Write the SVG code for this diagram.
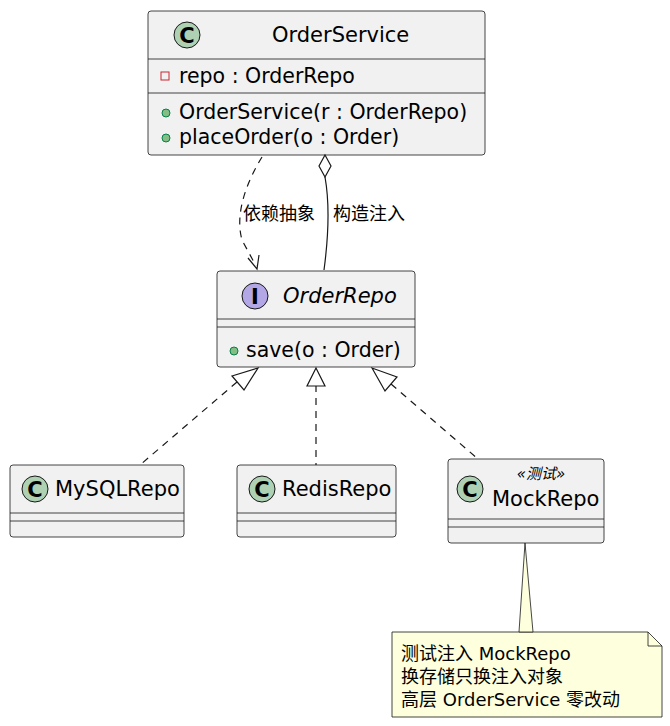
<svg xmlns="http://www.w3.org/2000/svg" width="670" height="726" viewBox="0 0 670 726">
<style>
.box{fill:#F1F1F1;stroke:#181818;stroke-width:0.8}
.sep{stroke:#181818;stroke-width:0.8}
text{font-family:"DejaVu Sans","Noto Sans CJK SC",sans-serif;fill:#000}
.n{font-size:21px}
.m{font-size:20.5px}
.l{font-size:18px}
.ci{fill:#ADD1B2;stroke:#181818;stroke-width:1}
.ct{font-family:"DejaVu Sans",sans-serif;font-size:21px;font-weight:bold;text-anchor:middle}
.line{fill:none;stroke:#181818;stroke-width:1.2}
.dash{stroke-dasharray:7,6}
</style>
<g id="OrderService">
<rect class="box" x="148" y="11" width="337" height="144" rx="3"/>
<circle class="ci" cx="187" cy="35" r="13"/><text class="ct" x="187" y="43">C</text>
<text class="n" x="272" y="42">OrderService</text>
<line class="sep" x1="148" y1="59" x2="485" y2="59"/>
<rect x="161" y="72" width="8" height="8" fill="none" stroke="#C82930" stroke-width="1"/>
<text class="m" x="179" y="83">repo : OrderRepo</text>
<line class="sep" x1="148" y1="93" x2="485" y2="93"/>
<circle cx="166" cy="113" r="4" fill="#84BE84" stroke="#038048"/>
<text class="m" x="179" y="119">OrderService(r : OrderRepo)</text>
<circle cx="166" cy="138" r="4" fill="#84BE84" stroke="#038048"/>
<text class="m" x="179" y="144">placeOrder(o : Order)</text>
</g>
<g id="OrderRepo">
<rect class="box" x="217" y="271" width="198" height="96" rx="3"/>
<circle cx="255" cy="296" r="13" fill="#B4A7E5" stroke="#181818"/><text class="ct" x="255" y="304">I</text>
<text class="n" x="283" y="303" font-style="italic">OrderRepo</text>
<line class="sep" x1="217" y1="319" x2="415" y2="319"/>
<line class="sep" x1="217" y1="327" x2="415" y2="327"/>
<circle cx="234" cy="351" r="4" fill="#84BE84" stroke="#038048"/>
<text class="m" x="246" y="357">save(o : Order)</text>
</g>
<g id="MySQLRepo">
<rect class="box" x="10" y="465" width="174" height="72" rx="3"/>
<circle class="ci" cx="35" cy="489" r="13"/><text class="ct" x="35" y="497">C</text>
<text class="n" x="55" y="496">MySQLRepo</text>
<line class="sep" x1="10" y1="513" x2="184" y2="513"/>
<line class="sep" x1="10" y1="521" x2="184" y2="521"/>
</g>
<g id="RedisRepo">
<rect class="box" x="237" y="465" width="159" height="72" rx="3"/>
<circle class="ci" cx="262" cy="489" r="13"/><text class="ct" x="262" y="497">C</text>
<text class="n" x="282" y="496">RedisRepo</text>
<line class="sep" x1="237" y1="513" x2="396" y2="513"/>
<line class="sep" x1="237" y1="521" x2="396" y2="521"/>
</g>
<g id="MockRepo">
<rect class="box" x="448" y="459" width="156" height="84" rx="3"/>
<circle class="ci" cx="470" cy="489" r="13"/><text class="ct" x="470" y="497">C</text>
<text x="541" y="479" font-size="15" font-style="italic" text-anchor="middle">«测试»</text>
<text class="n" x="492" y="506">MockRepo</text>
<line class="sep" x1="448" y1="519" x2="604" y2="519"/>
<line class="sep" x1="448" y1="527" x2="604" y2="527"/>
</g>
<g id="note">
<path d="M392,632 H648 L662,646 V717 H392 Z" fill="#FEFFDD" stroke="#181818" stroke-width="0.8"/>
<path d="M648,632 V646 H662" fill="none" stroke="#181818" stroke-width="0.8"/>
<text class="l" x="401" y="660" font-size="19.5px">测试注入 MockRepo</text>
<text class="l" x="401" y="683" font-size="19.5px">换存储只换注入对象</text>
<text class="l" x="401" y="706" font-size="19.5px">高层 OrderService 零改动</text>
</g>
<g id="connectors">
<path class="line dash" d="M262,157 C245,185 235,215 242,240 L256,266"/>
<path class="line" d="M248,258 L257,269 L259,255"/>
<path d="M325,155 L331,166 L325,177 L319,166 Z" fill="#fff" stroke="#181818" stroke-width="1.2"/>
<path class="line" d="M325,177 C330,205 328,240 324,270"/>
<text class="l" x="243" y="220">依赖抽象</text>
<text class="l" x="333" y="220">构造注入</text>
<path class="line dash" d="M237,382 L140,465"/>
<path d="M258,368 L232,376 L244,390 Z" fill="#fff" stroke="#181818" stroke-width="1.2"/>
<path class="line dash" d="M316,385 L316,465"/>
<path d="M316,368 L307,386 L325,386 Z" fill="#fff" stroke="#181818" stroke-width="1.2"/>
<path class="line dash" d="M391,384 L478,459"/>
<path d="M372,368 L385,391 L397,377 Z" fill="#fff" stroke="#181818" stroke-width="1.2"/>
<path d="M525,543 L519,632 L533,632 Z" fill="#FEFFDD" stroke="#181818" stroke-width="0.8"/>
</g>
</svg>
